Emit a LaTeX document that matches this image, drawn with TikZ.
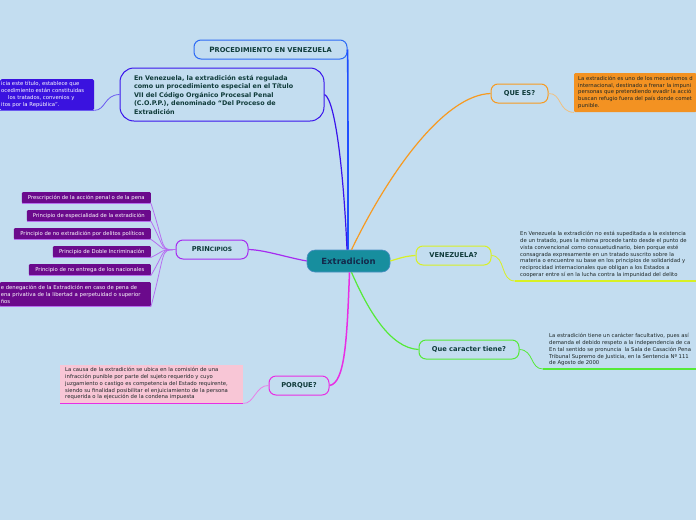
\documentclass[tikz,border=0pt]{standalone}
\usepackage{fontspec}
\setmainfont{DejaVu Sans}
\definecolor{bgblue}{HTML}{C3DDF0}
\definecolor{rootteal}{HTML}{178E9E}
\definecolor{rootedge}{HTML}{4C8FC4}
\definecolor{navy}{HTML}{13294B}
\definecolor{titletxt}{HTML}{0F3B3A}
\definecolor{notetxt}{HTML}{1C2626}
\definecolor{cblue}{HTML}{1F4FFF}
\definecolor{cprocbox}{HTML}{2D6BF5}
\definecolor{cindigo}{HTML}{3A14EC}
\definecolor{cindigolight}{HTML}{6A5AF0}
\definecolor{bnotefill}{HTML}{3A12DF}
\definecolor{cpurple}{HTML}{A62CF0}
\definecolor{cpurplelight}{HTML}{B66EF0}
\definecolor{pdark}{HTML}{6B0A8C}
\definecolor{cmagenta}{HTML}{E82EE4}
\definecolor{cmagentalight}{HTML}{E880E8}
\definecolor{pinkfill}{HTML}{F8C6D6}
\definecolor{corange}{HTML}{F79A20}
\definecolor{corangelight}{HTML}{F0C080}
\definecolor{orangefill}{HTML}{F39222}
\definecolor{cyellow}{HTML}{D8F024}
\definecolor{cgreen}{HTML}{55EA38}
\begin{document}
\begin{tikzpicture}[x=1pt,y=-1pt,
  rootbox/.style={fill=rootteal, draw=rootedge, line width=0.6pt, rounded corners=8pt,
    minimum width=83pt, minimum height=22pt, inner sep=0pt, text=navy,
    font=\bfseries\fontsize{8.5}{9}\selectfont},
  topic/.style={draw, rounded corners=7pt, line width=1pt, inner sep=0pt, text=titletxt,
    font=\bfseries\fontsize{6.7}{7}\selectfont, minimum height=19pt},
  notetext/.style={inner sep=0pt, anchor=north west, align=left, text=notetxt,
    font=\fontsize{5.3}{6.7}\selectfont},
  pchild/.style={fill=pdark, text=white, inner sep=0pt, anchor=north east,
    rounded corners=1pt, font=\fontsize{5.3}{7}\selectfont, minimum height=11pt, align=left},
  conn/.style={line width=1.2pt}
]
\fill[bgblue] (0,0) rectangle (696,520);
\useasboundingbox (0,0) rectangle (696,520);

% root
\node[rootbox] (root) at (348.5,261) {Extradicion};

% PROCEDIMIENTO
\node[topic, draw=cprocbox, minimum width=153pt] (proc) at (270.5,49.5)
  {{\fontsize{7.3}{7}\selectfont P}ROCEDIMIENTO EN VENEZUELA};
\draw[conn, cblue, line width=1.6pt] ([xshift=-0.5pt]root.north) .. controls (348,150) and (348,60) .. (proc.east);

% big node
\node[topic, draw=cindigo, rounded corners=14pt, minimum width=204pt, minimum height=53pt,
  text width=190pt, align=left, font=\bfseries\fontsize{6.4}{8.5}\selectfont] (big) at (222,94.5)
  {\hspace*{7pt}En Venezuela, la extradición está regulada\\
   \hspace*{7pt}como un procedimiento especial en el Título\\
   \hspace*{7pt}VII del Código Orgánico Procesal Penal\\
   \hspace*{7pt}(C.O.P.P.), denominado “Del Proceso de\\
   \hspace*{7pt}Extradición};
\draw[conn, cindigo] ([xshift=-1.5pt]root.north) .. controls (344,180) and (336,100) .. (big.east);

% left blue note
\node[fill=bnotefill, rounded corners=1.5pt, anchor=north west, minimum width=94pt,
  minimum height=31pt, inner sep=0pt] (bnote) at (0,79) {};
\node[notetext, text=white, anchor=north west] (btext) at (1,81.5)
  {icia este título, establece que\\
   ocedimiento están constituidas\\
   \hspace*{7pt}los tratados, convenios y\\
   itos por la República”.};
\draw[cindigolight, line width=1pt] (bnote.south west) -- (bnote.south east);
\draw[cindigolight, line width=0.8pt] (big.west) .. controls (104,95) and (106,110) .. (bnote.south east);

% PRINCIPIOS
\node[topic, draw=cpurple, minimum width=72pt] (princ) at (212,249.5)
  {PRIN{\fontsize{5.9}{7}\selectfont CIPIOS}};
\draw[conn, cpurple] (root.west) .. controls (285,257) and (265,250) .. (princ.east);

\node[pchild, minimum width=129pt] (p1) at (151,192) {Prescripción de la acción penal o de la pena};
\node[pchild, minimum width=124pt] (p2) at (151,210) {Principio de especialidad de la extradición};
\node[pchild, minimum width=137pt] (p3) at (151,228) {Principio de no extradición por delitos políticos};
\node[pchild, minimum width=98pt] (p4) at (151,246) {Principio de Doble Incriminación};
\node[pchild, minimum width=122pt] (p5) at (151,264) {Principio de no entrega de los nacionales};
\node[pchild, minimum width=151pt, minimum height=24pt, text width=149pt] (p6) at (151,282)
  {e denegación de la Extradición en caso de pena de\\
   ena privativa de la libertad a perpetuidad o superior\\
   ños};
\foreach \n in {p1,p2,p3,p4,p5,p6}{
  \draw[cpurplelight, line width=0.9pt] (\n.south west) -- (\n.south east);
  \draw[cpurplelight, line width=0.8pt] (princ.west) .. controls (160,250) and (166,250) .. (\n.south east);
}

% PORQUE
\node[topic, draw=cmagenta, minimum width=60pt] (porque) at (299,385.5) {PORQUE?};
\draw[conn, cmagenta, line width=1.5pt] ([xshift=1pt]root.south) .. controls (347,340) and (345,383) .. (porque.east);
\node[fill=pinkfill, anchor=north west, minimum width=183pt, minimum height=38pt, inner sep=0pt] (pnote) at (60,365) {};
\node[notetext] (ptext) at (65,367.5)
  {La causa de la extradición se ubica en la comisión de una\\
   infracción punible por parte del sujeto requerido y cuyo\\
   juzgamiento o castigo es competencia del Estado requirente,\\
   siendo su finalidad posibilitar el enjuiciamiento de la persona\\
   requerida o la ejecución de la condena impuesta};
\draw[cmagenta, line width=1.5pt] (pnote.south west) -- (pnote.south east);
\draw[cmagentalight, line width=0.8pt] (porque.west) .. controls (256,385) and (254,404) .. (pnote.south east);

% QUE ES?
\node[topic, draw=corange, minimum width=57pt] (quees) at (519.5,93.5) {QUE ES?};
\draw[conn, corange] ([xshift=3pt]root.north) .. controls (390,170) and (445,95) .. (quees.west);
\node[fill=orangefill, rounded corners=1pt, anchor=north west, minimum width=122pt,
  minimum height=39pt, inner sep=0pt] (onote) at (574,73) {};
\node[notetext] (otext) at (578,76)
  {La extradición es uno de los mecanismos d\\
   internacional, destinado a frenar la impuni\\
   personas que pretendiendo evadir la acció\\
   buscan refugio fuera del país donde comet\\
   punible.};
\draw[corangelight, line width=0.8pt] (quees.east) .. controls (562,93) and (558,112) .. (onote.south west);

% VENEZUELA?
\node[topic, draw=cyellow, minimum width=75pt] (venez) at (453.5,255.5) {VENEZUELA?};
\draw[conn, cyellow] (root.east) .. controls (400,258) and (406,256) .. (venez.west);
\coordinate (vl) at (515,281);
\coordinate (vr) at (696,281);
\node[notetext] (vtext) at (520,231.5)
  {En Venezuela la extradición no está supeditada a la existencia\\
   de un tratado, pues la misma procede tanto desde el punto de\\
   vista convencional como consuetudinario, bien porque esté\\
   consagrada expresamente en un tratado suscrito sobre la\\
   materia o encuentre su base en los principios de solidaridad y\\
   reciprocidad internacionales que obligan a los Estados a\\
   cooperar entre sí en la lucha contra la impunidad del delito};
\draw[cyellow, line width=1.2pt] (vl) -- (vr);
\draw[cyellow, line width=0.8pt] (venez.east) .. controls (506,256) and (500,281) .. (vl);

% Que caracter tiene?
\node[topic, draw=cgreen, minimum width=100pt] (caract) at (469,349.5) {Que caracter tiene?};
\draw[conn, cgreen] ([xshift=3pt]root.south) .. controls (368,310) and (390,348) .. (caract.west);
\coordinate (gl) at (543,369);
\coordinate (gr) at (696,369);
\node[notetext] (gtext) at (549,333.5)
  {La estradición tiene un carácter facultativo, pues así\\
   demanda el debido respeto a la independencia de ca\\
   En tal sentido se pronuncia\ \ la Sala de Casación Pena\\
   Tribunal Supremo de Justicia, en la Sentencia Nº 111\\
   de Agosto de 2000};
\draw[cgreen, line width=1.5pt] (gl) -- (gr);
\draw[cgreen, line width=0.8pt] (caract.east) .. controls (534,350) and (530,369) .. (gl);
\end{tikzpicture}
\end{document}
